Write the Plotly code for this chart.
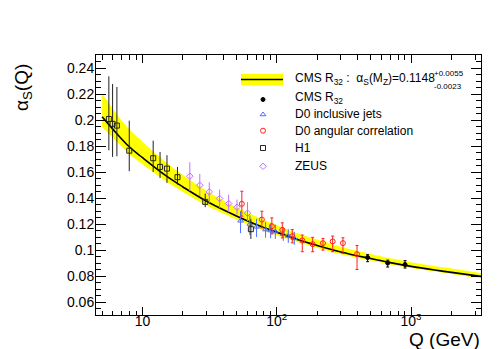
import numpy as np
import plotly.graph_objects as go

# ---------------- data ----------------
# fitted running alpha_s curve and its uncertainty band
fit_q = [5, 6, 8, 10, 15, 20, 30, 50, 70, 100, 150, 200, 300, 500, 700, 1000, 1500, 2000, 3320]
fit_as = [0.2025, 0.1930, 0.1792, 0.1710, 0.1570, 0.1485, 0.1375, 0.1262, 0.1197, 0.1137,
          0.1073, 0.1035, 0.0985, 0.0934, 0.0903, 0.0874, 0.0846, 0.0828, 0.0797]
fit_hi = [0.2205, 0.2085, 0.1926, 0.1832, 0.1673, 0.1577, 0.1454, 0.1328, 0.1257, 0.1191,
          0.1121, 0.1080, 0.1025, 0.0970, 0.0937, 0.0906, 0.0876, 0.0857, 0.0822]
fit_lo = [0.1945, 0.1865, 0.1736, 0.1659, 0.1527, 0.1447, 0.1342, 0.1234, 0.1172, 0.1114,
          0.1053, 0.1016, 0.0968, 0.0919, 0.0889, 0.0861, 0.0834, 0.0816, 0.0782]

# CMS R32
cms_q = [475, 670, 902]
cms_as = [0.0942, 0.0900, 0.0888]
cms_hi = [0.0964, 0.0922, 0.0918]
cms_lo = [0.0910, 0.0869, 0.0861]

# D0 inclusive jets
d0i_q = [53.7, 63.0, 70.7, 82.5, 90.0, 97.5, 111.7, 121.8, 135.0]
d0i_as = [0.1225, 0.1200, 0.1178, 0.1157, 0.1150, 0.1142, 0.1122, 0.1108, 0.1090]
d0i_hi = [0.1300, 0.1265, 0.1240, 0.1215, 0.1205, 0.1195, 0.1175, 0.1160, 0.1140]
d0i_lo = [0.1130, 0.1115, 0.1100, 0.1095, 0.1090, 0.1085, 0.1070, 0.1055, 0.1040]

# D0 angular correlation
d0a_q = [54.9, 77.4, 91.9, 109.9, 130.4, 154.8, 184.9, 220.8, 260.8, 311.0, 396.0]
d0a_as = [0.1355, 0.1234, 0.1183, 0.1155, 0.1106, 0.1073, 0.1045, 0.1053, 0.1066, 0.1053, 0.0968]
d0a_hi = [0.1452, 0.1298, 0.1247, 0.1209, 0.1157, 0.1115, 0.1097, 0.1089, 0.1107, 0.1094, 0.1035]
d0a_lo = [0.1260, 0.1170, 0.1124, 0.1093, 0.1055, 0.0987, 0.0987, 0.0999, 0.0987, 0.0974, 0.0850]

# H1
h1_q = [5.61, 5.98, 6.44, 7.96, 12.0, 13.5, 15.2, 18.2, 29.3, 64.1]
h1_as = [0.2008, 0.1970, 0.1957, 0.1764, 0.1706, 0.1639, 0.1626, 0.1560, 0.1370, 0.1160]
h1_hi = [0.2336, 0.2277, 0.2254, 0.1995, 0.1841, 0.1754, 0.1729, 0.1639, 0.1434, 0.1240]
h1_lo = [0.1767, 0.1716, 0.1721, 0.1606, 0.1600, 0.1554, 0.1516, 0.1503, 0.1329, 0.1085]

# ZEUS
zeus_q = [22.5, 26.7, 31.4, 37.5, 43.8, 50.5, 60.5]
zeus_as = [0.1568, 0.1498, 0.1447, 0.1396, 0.1357, 0.1329, 0.1283]
zeus_hi = [0.1675, 0.1585, 0.1521, 0.1465, 0.1426, 0.1388, 0.1368]
zeus_lo = [0.1452, 0.1414, 0.1362, 0.1324, 0.1291, 0.1273, 0.1222]

y_tickvals = [0.06, 0.08, 0.10, 0.12, 0.14, 0.16, 0.18, 0.20, 0.22, 0.24]
y_ticktext = ["0.06", "0.08", "0.1", "0.12", "0.14", "0.16", "0.18", "0.2", "0.22", "0.24"]
x_tickvals = [10, 100, 1000]
x_ticktext = ["10", "10<sup>2</sup>", "10<sup>3</sup>"]
x_minor = [5, 6, 7, 8, 9, 20, 30, 40, 50, 60, 70, 80, 90,
           200, 300, 400, 500, 600, 700, 800, 900, 2000, 3000]

legend_labels = [
    "CMS R<sub>32</sub> :  α<sub>S</sub>(M<sub>Z</sub>)=0.1148",
    "CMS R<sub>32</sub>",
    "D0 inclusive jets",
    "D0 angular correlation",
    "H1",
    "ZEUS",
]

FONT = "Liberation Sans, Arial, Helvetica, sans-serif"
W, H = 497, 349
L, R, T, B = 88, 24, 47, 42
PW, PH = W - L - R, H - T - B


def px(x):
    return (x - L) / PW


def py(y):
    return (H - B - y) / PH


BLUE = "#4a6cff"
RED = "#ff2020"
VIOLET = "#c070ff"
DARK = "#222222"

fig = go.Figure()

# uncertainty band
fig.add_trace(go.Scatter(x=fit_q, y=fit_lo, mode="lines", line=dict(width=0, shape="spline"),
                         showlegend=False, hoverinfo="skip"))
fig.add_trace(go.Scatter(x=fit_q, y=fit_hi, mode="lines", line=dict(width=0, shape="spline"),
                         fill="tonexty", fillcolor="#ffff00", showlegend=False, hoverinfo="skip"))
# central curve
fig.add_trace(go.Scatter(x=fit_q, y=fit_as, mode="lines",
                         line=dict(color="black", width=1.6, shape="spline"), showlegend=False))


def pts(q, a, hi, lo, color, symbol, size, capw=0, fill=None):
    a = np.array(a); hi = np.array(hi); lo = np.array(lo)
    fig.add_trace(go.Scatter(
        x=q, y=a, mode="markers", showlegend=False,
        marker=dict(symbol=symbol, size=size, color=fill if fill else color,
                    line=dict(color=color, width=1)),
        error_y=dict(type="data", symmetric=False, array=hi - a, arrayminus=a - lo,
                     color=color, thickness=1, width=capw),
    ))


pts(zeus_q, zeus_as, zeus_hi, zeus_lo, VIOLET, "diamond-open", 5)
pts(d0i_q, d0i_as, d0i_hi, d0i_lo, BLUE, "triangle-up-open", 5)
pts(d0a_q, d0a_as, d0a_hi, d0a_lo, RED, "circle-open", 5, capw=1.5)
pts(h1_q, h1_as, h1_hi, h1_lo, DARK, "square-open", 5)
pts(cms_q, cms_as, cms_hi, cms_lo, "black", "circle", 4, capw=1.5)

# ---------------- manual legend (overlay axes measured in pixels) ----------------
leg_sym_x = 255
leg_rows_y = [71.5, 91.5, 106.5, 122.7, 140.0, 158.3]
leg_text_y = [70.5, 89.5, 106.2, 122.8, 140.2, 158.3]
leg_syms = [None, ("circle", "black", "black", 4),
            ("triangle-up-open", BLUE, BLUE, 5),
            ("circle-open", RED, RED, 5),
            ("square-open", DARK, DARK, 5),
            ("diamond-open", VIOLET, VIOLET, 5)]
for yy, s in zip(leg_rows_y, leg_syms):
    if s is None:
        continue
    sym, col, fc, sz = s
    fig.add_trace(go.Scatter(x=[leg_sym_x], y=[yy], xaxis="x2", yaxis="y2", mode="markers",
                             marker=dict(symbol=sym, size=sz, color=fc, line=dict(color=col, width=1)),
                             showlegend=False, hoverinfo="skip"))

shapes = [
    dict(type="rect", xref="paper", yref="paper", x0=px(233), x1=px(275), y0=py(65.7), y1=py(77.3),
         fillcolor="#ffff00", line=dict(width=0), layer="above"),
    dict(type="line", xref="paper", yref="paper", x0=px(233), x1=px(275), y0=py(71.5), y1=py(71.5),
         line=dict(color="black", width=1.6), layer="above"),
]

annotations = []
for yy, txt in zip(leg_text_y, legend_labels):
    annotations.append(dict(x=px(285), y=py(yy), xref="paper", yref="paper", text=txt, showarrow=False,
                            xanchor="left", yanchor="middle",
                            font=dict(family=FONT, size=12, color="black")))
annotations.append(dict(x=px(424), y=py(65), xref="paper", yref="paper", text="+0.0055", showarrow=False,
                        xanchor="left", yanchor="middle", font=dict(family=FONT, size=8, color="black")))
annotations.append(dict(x=px(424), y=py(78), xref="paper", yref="paper", text="-0.0023", showarrow=False,
                        xanchor="left", yanchor="middle", font=dict(family=FONT, size=8, color="black")))
# axis titles
annotations.append(dict(x=px(15), y=py(80), xref="paper", yref="paper", text="α<sub>S</sub>(Q)",
                        showarrow=False, textangle=-90, xanchor="center", yanchor="middle",
                        font=dict(family=FONT, size=19, color="black")))
annotations.append(dict(x=px(474), y=py(331), xref="paper", yref="paper", text="Q (GeV)",
                        showarrow=False, xanchor="right", yanchor="middle",
                        font=dict(family=FONT, size=19, color="black")))

xaxis = dict(type="log", range=[np.log10(4.5), np.log10(3320)],
             tickvals=x_tickvals, ticktext=x_ticktext,
             ticks="inside", ticklen=8, tickwidth=1, tickcolor="black",
             showline=True, linecolor="black", linewidth=1, mirror="ticks",
             showgrid=False, zeroline=False,
             tickfont=dict(family=FONT, size=14, color="black"),
             minor=dict(tickvals=x_minor, ticks="inside", ticklen=4.5, tickwidth=1,
                        tickcolor="black", showgrid=False))
yaxis = dict(range=[0.05, 0.25], tickvals=y_tickvals, ticktext=y_ticktext,
             ticks="inside", ticklen=10, tickwidth=1, tickcolor="black",
             showline=True, linecolor="black", linewidth=1, mirror="ticks",
             showgrid=False, zeroline=False,
             tickfont=dict(family=FONT, size=14, color="black"),
             minor=dict(dtick=0.005, tick0=0.05, ticks="inside", ticklen=5, tickwidth=1,
                        tickcolor="black", showgrid=False))

fig.update_layout(
    width=W, height=H,
    margin=dict(l=L, r=R, t=T, b=B, pad=0),
    paper_bgcolor="white", plot_bgcolor="white",
    font=dict(family=FONT, size=14, color="black"),
    showlegend=False,
    shapes=shapes,
    annotations=annotations,
    xaxis=xaxis, yaxis=yaxis,
    xaxis2=dict(overlaying="x", range=[L, W - R], visible=False, fixedrange=True),
    yaxis2=dict(overlaying="y", range=[H - B, T], visible=False, fixedrange=True),
)
try:
    fig.update_layout(xaxis_ticklabelstandoff=-7, yaxis_ticklabelstandoff=-2)
except Exception:
    pass

fig.write_html("out.html")
